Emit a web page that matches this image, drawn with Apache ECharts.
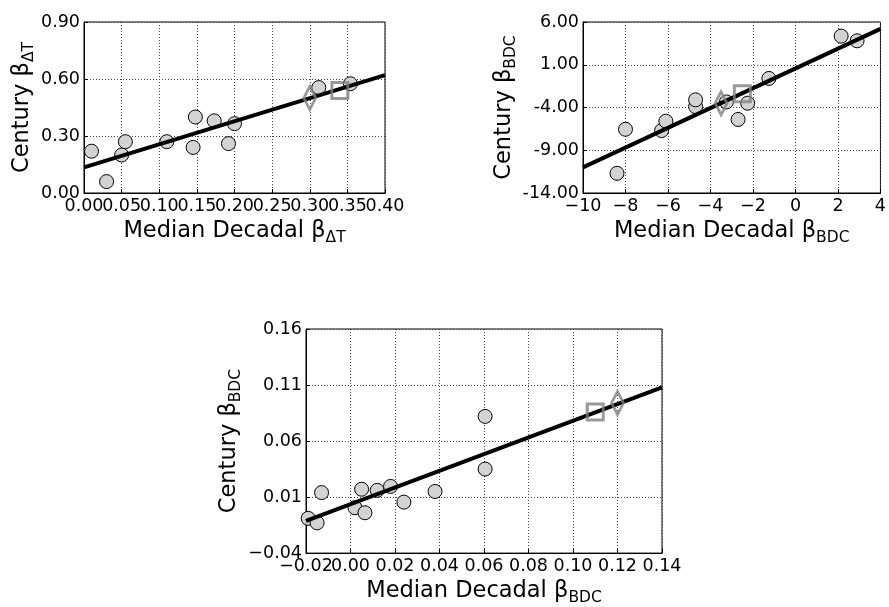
<!DOCTYPE html>
<html>
<head>
<meta charset="utf-8">
<script src="https://cdn.jsdelivr.net/npm/echarts@6/dist/echarts.min.js"></script>
<style>
  html, body { margin: 0; padding: 0; background: #fff; }
  #main { width: 889px; height: 607px; }
</style>
</head>
<body>
<div id="main"></div>
<script>
// panel 1: delta T
const tempDecadal = [0.01, 0.03, 0.05, 0.055, 0.11, 0.145, 0.148, 0.173, 0.192, 0.20, 0.312, 0.354];
const tempCentury = [0.22, 0.06, 0.20, 0.27, 0.27, 0.24, 0.40, 0.38, 0.26, 0.365, 0.555, 0.575];
const tempSquare = [0.34, 0.54];
const tempDiamond = [0.30, 0.50];
const tempFitX = [0, 0.4];
const tempFitY = [0.135, 0.62];

// panel 2: BDC
const bdcDecadal = [-8.4, -8.0, -6.3, -6.1, -4.7, -4.7, -3.25, -2.7, -2.25, -1.25, 2.15, 2.9];
const bdcCentury = [-11.7, -6.55, -6.7, -5.6, -3.9, -3.1, -3.35, -5.4, -3.5, -0.6, 4.35, 3.8];
const bdcSquare = [-2.5, -2.4];
const bdcDiamond = [-3.5, -3.5];
const bdcFitX = [-10, 4];
const bdcFitY = [-11.0, 5.2];

// panel 3: BDC (small)
const bdc2Decadal = [-0.019, -0.015, -0.013, 0.002, 0.005, 0.0065, 0.012, 0.018, 0.024, 0.038, 0.0605, 0.0605];
const bdc2Century = [-0.009, -0.013, 0.014, 0.0005, 0.017, -0.004, 0.016, 0.0195, 0.0055, 0.015, 0.082, 0.035];
const bdc2Square = [0.11, 0.086];
const bdc2Diamond = [0.12, 0.094];
const bdc2FitX = [-0.02, 0.14];
const bdc2FitY = [-0.0113, 0.108];

const FONT = 'DejaVu Sans';

function fmt(v, digits, uminus) {
    if (Math.abs(v) < 1e-9) v = 0;
    let s = v.toFixed(digits);
    if (uminus) s = s.replace('-', '\u2212');
    return s;
}

const nameStyle = {
    fontFamily: FONT,
    color: '#000',
    rich: {
        m: { fontFamily: FONT, fontSize: 22.5, lineHeight: 30, color: '#000' },
        s: { fontFamily: FONT, fontSize: 15.5, lineHeight: 15, verticalAlign: 'top', padding: [14, 0, 0, 0], color: '#000' }
    }
};

function makeAxis(idx, cfg) {
    return {
        type: 'value',
        gridIndex: idx,
        min: cfg.min,
        max: cfg.max,
        interval: cfg.interval,
        name: cfg.name,
        nameLocation: 'middle',
        nameGap: cfg.gap,
        nameTextStyle: nameStyle,
        axisLine: { show: true, onZero: false, lineStyle: { color: '#000', width: 1 } },
        axisTick: { show: true, inside: true, length: 4, interval: 0, lineStyle: { color: '#000' } },
        axisLabel: {
            fontFamily: FONT, fontSize: 17.5, color: '#000', margin: 4,
            interval: 0, hideOverlap: false, showMinLabel: true, showMaxLabel: true,
            formatter: cfg.formatter
        },
        splitLine: { show: true, interval: 0, lineStyle: { color: '#444', width: 1, type: [1, 2] } }
    };
}

// the x labels run into each other in the original; echarts drops overlapping ones,
// so every other label goes on a second, invisible axis lying on the same place
function evenOnly(f) { return (v, i) => (i % 2 === 0 ? f(v) : ''); }
function oddOnly(f) { return (v, i) => (i % 2 === 1 ? f(v) : ''); }

function labelAxis(idx, cfg) {
    const ax = makeAxis(idx, cfg);
    ax.name = '';
    ax.position = 'bottom';
    ax.offset = 0;
    ax.axisLine = { show: false, onZero: false };
    ax.axisTick = { show: false };
    ax.splitLine = { show: false };
    return ax;
}

function zip(xs, ys) {
    return xs.map((x, i) => [x, ys[i]]);
}

function panelSeries(idx, xs, ys, sq, dm, fx, fy) {
    return [
        {
            type: 'scatter', xAxisIndex: idx, yAxisIndex: idx,
            data: zip(xs, ys), symbol: 'circle', symbolSize: 14, clip: false,
            itemStyle: { color: '#d3d3d3', borderColor: '#000', borderWidth: 1, opacity: 1 },
            z: 2
        },
        {
            type: 'line', xAxisIndex: idx, yAxisIndex: idx,
            data: zip(fx, fy), symbol: 'none', silent: true,
            lineStyle: { color: '#000', width: 4 },
            z: 3
        },
        {
            type: 'scatter', xAxisIndex: idx, yAxisIndex: idx,
            data: [sq], symbol: 'rect', symbolSize: 16,
            itemStyle: { color: 'rgba(0,0,0,0)', borderColor: '#808080', borderWidth: 3 },
            z: 4
        },
        {
            type: 'scatter', xAxisIndex: idx, yAxisIndex: idx,
            data: [dm], symbol: 'diamond', symbolSize: [12, 23],
            itemStyle: { color: 'rgba(0,0,0,0)', borderColor: '#808080', borderWidth: 3 },
            z: 4
        }
    ];
}

const myChart = echarts.init(document.getElementById('main'), null, { renderer: 'canvas' });

const gridBase = { show: true, borderColor: '#000', borderWidth: 1, backgroundColor: 'transparent', containLabel: false };

const f2m = v => fmt(v, 2, true);
const f0m = v => fmt(v, 0, true);

const option = {
    animation: false,
    backgroundColor: '#fff',
    grid: [
        Object.assign({ left: 84, top: 22, width: 301, height: 171 }, gridBase),
        Object.assign({ left: 583, top: 22, width: 300, height: 171 }, gridBase),
        Object.assign({ left: 306, top: 329, width: 356, height: 228 }, gridBase)
    ],
    xAxis: [
        makeAxis(0, { min: 0, max: 0.4, interval: 0.05, gap: 20,
            name: '{m|Median Decadal β}{s|ΔT}', formatter: evenOnly(f2m) }),
        makeAxis(1, { min: -10, max: 4, interval: 2, gap: 20,
            name: '{m|Median Decadal β}{s|BDC}', formatter: f0m }),
        makeAxis(2, { min: -0.02, max: 0.14, interval: 0.02, gap: 20,
            name: '{m|Median Decadal β}{s|BDC}', formatter: evenOnly(f2m) }),
        labelAxis(0, { min: 0, max: 0.4, interval: 0.05, formatter: oddOnly(f2m) }),
        labelAxis(2, { min: -0.02, max: 0.14, interval: 0.02, formatter: oddOnly(f2m) })
    ],
    yAxis: [
        makeAxis(0, { min: 0, max: 0.9, interval: 0.3, gap: 45,
            name: '{m|Century β}{s|ΔT}', formatter: v => fmt(v, 2, false) }),
        makeAxis(1, { min: -14, max: 6, interval: 5, gap: 64,
            name: '{m|Century β}{s|BDC}', formatter: v => fmt(v, 2, false) }),
        makeAxis(2, { min: -0.04, max: 0.16, interval: 0.05, gap: 62,
            name: '{m|Century β}{s|BDC}', formatter: v => fmt(v, 2, true) })
    ],
    series: [].concat(
        panelSeries(0, tempDecadal, tempCentury, tempSquare, tempDiamond, tempFitX, tempFitY),
        panelSeries(1, bdcDecadal, bdcCentury, bdcSquare, bdcDiamond, bdcFitX, bdcFitY),
        panelSeries(2, bdc2Decadal, bdc2Century, bdc2Square, bdc2Diamond, bdc2FitX, bdc2FitY)
    )
};

myChart.setOption(option);
</script>
</body>
</html>
